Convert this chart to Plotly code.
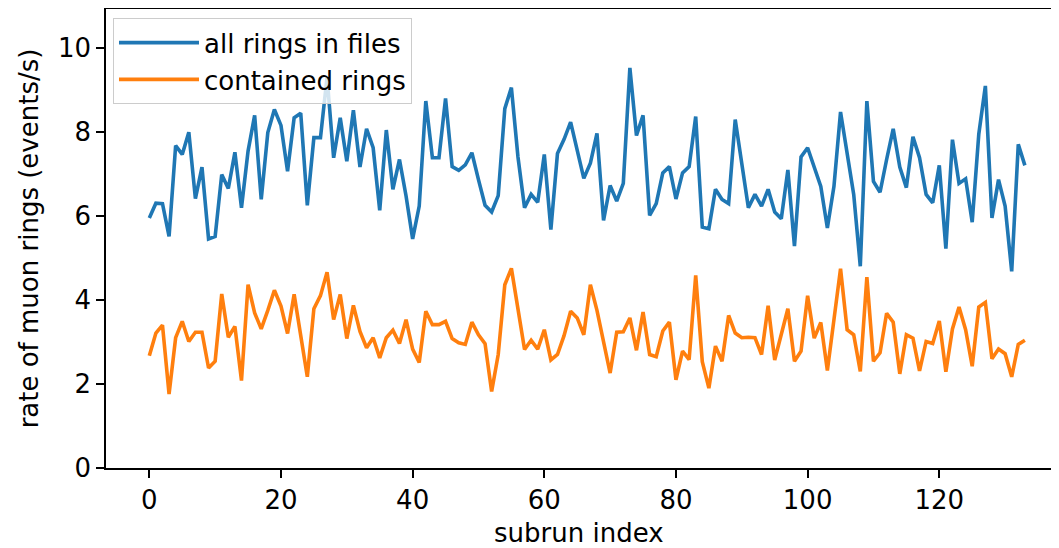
import plotly.graph_objects as go

# rate of muon rings per subrun (events/s)
all_rings = [
    5.95, 6.30, 6.29, 5.51, 7.67, 7.46, 7.99, 6.41, 7.16, 5.45,
    5.51, 6.98, 6.65, 7.51, 6.19, 7.54, 8.39, 6.39, 7.98, 8.53,
    8.15, 7.06, 8.33, 8.44, 6.25, 7.86, 7.86, 9.30, 7.38, 8.33,
    7.30, 8.51, 7.16, 8.07, 7.62, 6.13, 8.04, 6.63, 7.34, 6.47,
    5.45, 6.23, 8.73, 7.38, 7.38, 8.79, 7.17, 7.08, 7.21, 7.50,
    6.86, 6.25, 6.09, 6.48, 8.55, 9.05, 7.40, 6.19, 6.51, 6.32,
    7.46, 5.67, 7.48, 7.82, 8.23, 7.58, 6.89, 7.25, 7.96, 5.89,
    6.72, 6.35, 6.77, 9.52, 7.91, 8.39, 6.01, 6.29, 7.02, 7.17,
    6.40, 7.02, 7.17, 8.36, 5.73, 5.69, 6.63, 6.39, 6.29, 8.29,
    7.20, 6.19, 6.51, 6.23, 6.63, 6.09, 5.93, 7.09, 5.28, 7.40,
    7.62, 7.14, 6.70, 5.71, 6.70, 8.47, 7.46, 6.51, 4.80, 8.73,
    6.82, 6.56, 7.34, 8.07, 7.16, 6.67, 7.88, 7.38, 6.51, 6.31,
    7.20, 5.22, 7.81, 6.77, 6.88, 5.85, 7.94, 9.09, 5.95, 6.86,
    6.23, 4.68, 7.70, 7.20,
]

contained_rings = [
    2.67, 3.21, 3.40, 1.76, 3.10, 3.49, 3.01, 3.23, 3.23, 2.38,
    2.54, 4.14, 3.11, 3.37, 2.08, 4.36, 3.69, 3.31, 3.75, 4.23,
    3.85, 3.20, 4.13, 3.10, 2.17, 3.79, 4.10, 4.66, 3.53, 4.13,
    3.08, 3.87, 3.25, 2.86, 3.10, 2.62, 3.10, 3.28, 2.96, 3.53,
    2.83, 2.51, 3.73, 3.41, 3.41, 3.49, 3.08, 2.98, 2.94, 3.47,
    3.17, 2.96, 1.82, 2.70, 4.36, 4.75, 3.79, 2.82, 3.04, 2.83,
    3.29, 2.57, 2.70, 3.15, 3.73, 3.57, 3.17, 4.36, 3.75, 3.00,
    2.26, 3.23, 3.24, 3.57, 2.80, 3.71, 2.70, 2.65, 3.26, 3.47,
    2.10, 2.78, 2.58, 4.58, 2.53, 1.90, 2.90, 2.54, 3.63, 3.21,
    3.10, 3.11, 3.10, 2.70, 3.86, 2.57, 3.17, 3.79, 2.54, 2.78,
    4.10, 3.09, 3.46, 2.32, 3.53, 4.74, 3.29, 3.17, 2.30, 4.54,
    2.54, 2.74, 3.68, 3.47, 2.24, 3.17, 3.09, 2.31, 3.01, 2.96,
    3.50, 2.29, 3.31, 3.83, 3.29, 2.42, 3.83, 3.94, 2.60, 2.83,
    2.72, 2.17, 2.94, 3.04,
]

subrun = list(range(len(all_rings)))

font = dict(family="DejaVu Sans", size=26, color="black")

fig = go.Figure()
fig.add_trace(go.Scatter(x=subrun, y=all_rings, mode="lines",
                         name="all rings in files",
                         line=dict(color="#1f77b4", width=3.6)))
fig.add_trace(go.Scatter(x=subrun, y=contained_rings, mode="lines",
                         name="contained rings",
                         line=dict(color="#ff7f0e", width=3.6)))

# x title as an annotation so it can sit low without shrinking the plot area
fig.add_annotation(text="subrun index", xref="paper", yref="paper",
                   x=0.5, y=-0.142, xanchor="center", yanchor="middle",
                   showarrow=False, font=font)

# the page body adds an 8px margin, so the figure is shifted to compensate
fig.update_layout(
    width=1043, height=540,
    margin=dict(l=98, r=0, t=1, b=80),
    plot_bgcolor="white", paper_bgcolor="white",
    font=font,
    showlegend=True,
    legend=dict(
        x=0.0074, y=0.98, xanchor="left", yanchor="top",
        bgcolor="rgba(255,255,255,0.8)", bordercolor="#cccccc", borderwidth=1,
        font=font, itemwidth=80, tracegroupgap=0,
    ),
    xaxis=dict(
        range=[-6.58, 136.97], tickmode="array", tickvals=[0, 20, 40, 60, 80, 100, 120],
        showgrid=False, zeroline=False, showline=True, mirror=True,
        linecolor="black", linewidth=1.6, ticks="outside", ticklen=8,
        tickwidth=1.6, tickcolor="black", tickfont=font, automargin=False,
    ),
    yaxis=dict(
        range=[0, 10.92], tickmode="array", tickvals=[0, 2, 4, 6, 8, 10],
        showgrid=False, zeroline=False, showline=True, mirror=False,
        linecolor="black", linewidth=1.6, ticks="outside", ticklen=8,
        tickwidth=1.6, tickcolor="black", tickfont=font, automargin=False,
        title=dict(text="rate of muon rings (events/s)", standoff=12, font=font),
    ),
)

fig.write_html("out.html")
